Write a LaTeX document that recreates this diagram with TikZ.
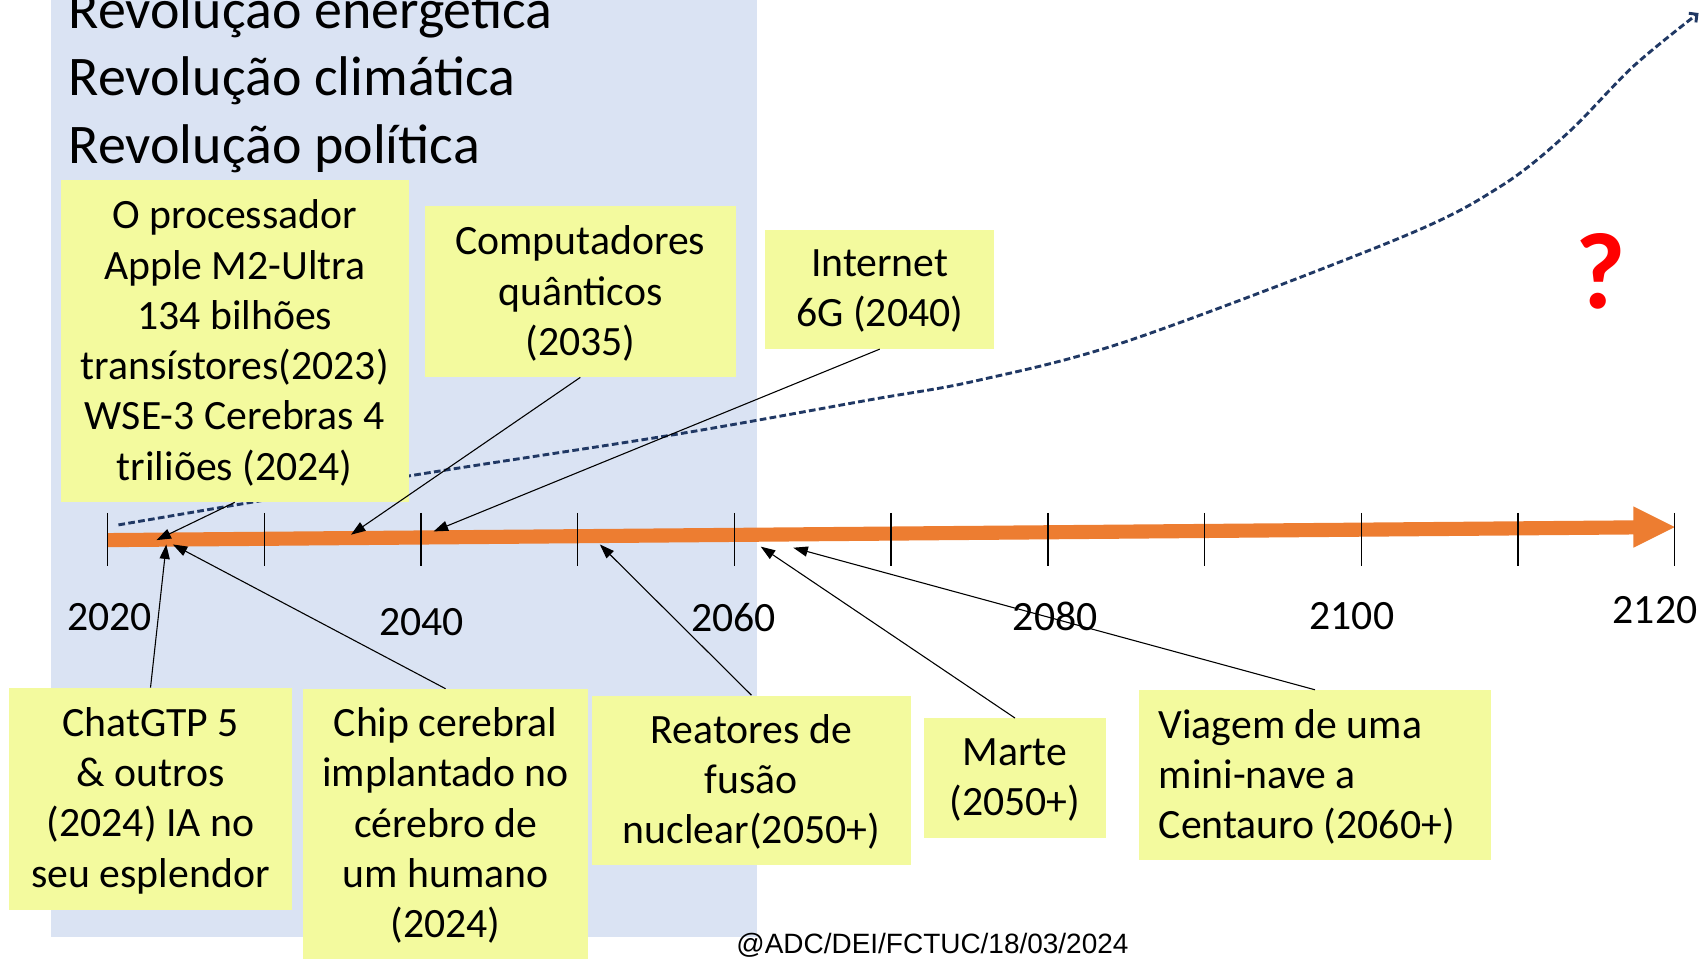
\documentclass[tikz,border=0pt]{standalone}
\usepackage{fontspec}
\setmainfont{Carlito}
\newfontfamily\footfont{Liberation Sans}
\usetikzlibrary{arrows.meta,fit}
\definecolor{bgblue}{HTML}{DAE3F3}
\definecolor{boxyellow}{HTML}{F3FA9E}
\definecolor{tlorange}{HTML}{ED7D31}
\definecolor{navyline}{HTML}{203864}
\newcommand\bxfont{\fontsize{28.8}{34.7}\selectfont}
\newcommand\bigrevfont{\fontsize{38.6}{45.75}\selectfont}
\begin{document}
\begin{tikzpicture}[x=0.75pt,y=-0.75pt,
  yellowbox/.style={fill=boxyellow, inner sep=0pt},
  boxtext/.style={align=center, font=\bxfont, inner sep=0pt, yshift=-1.2pt},
  yearlabel/.style={font=\bxfont, inner sep=0pt},
  revline/.style={anchor=base west, font=\bigrevfont, inner sep=0pt},
  tickline/.style={draw=black, line width=1pt},
  pointer/.style={draw=black, line width=0.75pt, -{Triangle[length=10pt,width=7pt]}},
  trend/.style={draw=navyline, line width=2pt, dash pattern=on 4.6pt off 2.3pt, -{Straight Barb[length=4pt,width=8pt]}}
]
\path[use as bounding box] (0,0) rectangle (1568,882);
\clip (0,0) rectangle (1568,882);
% background panel
\fill[bgblue] (47,0) rectangle (697,862);
% headings
\node[revline] (rev1) at (63,26) {Revolução energética};
\node[revline] (rev2) at (63,88) {Revolução climática};
\node[revline] (rev3) at (63,150) {Revolução política};
% trend curve
\draw[trend] plot[smooth, tension=0.55] coordinates {(109,483) (376,438) (620,400) (800,368) (900,350) (1040,313) (1288,219) (1380,172) (1442,123) (1503,61) (1563,12)};
% timeline arrow
\fill[tlorange] (99,490.5) -- (1503,478.8) -- (1503,466) -- (1541,485) -- (1503,504) -- (1503,491.8) -- (99,503.5) -- cycle;
\foreach \i in {0,...,10} \draw[tickline] ({99+144.2*\i},472) -- ({99+144.2*\i},521);
% years
\node[yearlabel] (y2020) at (101,568) {2020};
\node[yearlabel] (y2040) at (388,572) {2040};
\node[yearlabel] (y2060) at (675,568) {2060};
\node[yearlabel] (y2080) at (971,567) {2080};
\node[yearlabel] (y2100) at (1244,567) {2100};
\node[yearlabel] (y2120) at (1523,561) {2120};
% boxes
\node[yellowbox, fit={(56,166) (376,462)}] (b1) {};
\node[boxtext] (b1text) at (b1.center) {O processador\\Apple M2-Ultra\\134 bilhões\\transístores(2023)\\WSE-3 Cerebras 4\\triliões (2024)};
\node[yellowbox, fit={(391,190) (677,347)}] (b2) {};
\node[boxtext] (b2text) at (b2.center) {Computadores\\quânticos\\(2035)};
\node[yellowbox, fit={(704,212) (915,321)}] (b3) {};
\node[boxtext] (b3text) at (b3.center) {Internet\\6G (2040)};
\node[yellowbox, fit={(8,633) (269,837)}] (b4) {};
\node[boxtext] (b4text) at (b4.center) {ChatGTP 5\\\& outros\\(2024) IA no\\seu esplendor};
\node[yellowbox, fit={(279,634) (541,882)}] (b5) {};
\node[boxtext] (b5text) at (b5.center) {Chip cerebral\\implantado no\\cérebro de\\um humano\\(2024)};
\node[yellowbox, fit={(545,640) (838,796)}] (b6) {};
\node[boxtext] (b6text) at (b6.center) {Reatores de\\fusão\\nuclear(2050+)};
\node[yellowbox, fit={(850,661) (1018,771)}] (b7) {};
\node[boxtext] (b7text) at (b7.center) {Marte\\(2050+)};
\node[yellowbox, fit={(1048,635) (1372,791)}] (b8) {};
\node[anchor=west, align=left, font=\bxfont, inner sep=0pt] (b8text) at (1066,715) {Viagem de uma\\mini-nave a\\Centauro (2060+)};
% question mark
\node[anchor=base, text=red, font=\fontsize{75}{80}\selectfont\bfseries, inner sep=0pt] (qmark) at (1473,284) {?};
% footer
\node[anchor=base, font=\footfont\fontsize{19.3}{22}\selectfont, inner sep=0pt] (footer) at (858,877) {@ADC/DEI/FCTUC/18/03/2024};
% arrow targets
\coordinate (t1) at (144,497);
\coordinate (t2) at (323,492);
\coordinate (t3) at (399,489);
\coordinate (t4) at (153,501);
\coordinate (t5) at (159,501);
\coordinate (t6) at (552,501);
\coordinate (t7) at (700,503);
\coordinate (t8) at (730,504);
\draw[pointer] (b1.south) -- (t1);
\draw[pointer] (b2.south) -- (t2);
\draw[pointer] (b3.south) -- (t3);
\draw[pointer] (b4.north) -- (t4);
\draw[pointer] (b5.north) -- (t5);
\draw[pointer] (b6.north) -- (t6);
\draw[pointer] (b7.north) -- (t7);
\draw[pointer] (b8.north) -- (t8);
\end{tikzpicture}
\end{document}
